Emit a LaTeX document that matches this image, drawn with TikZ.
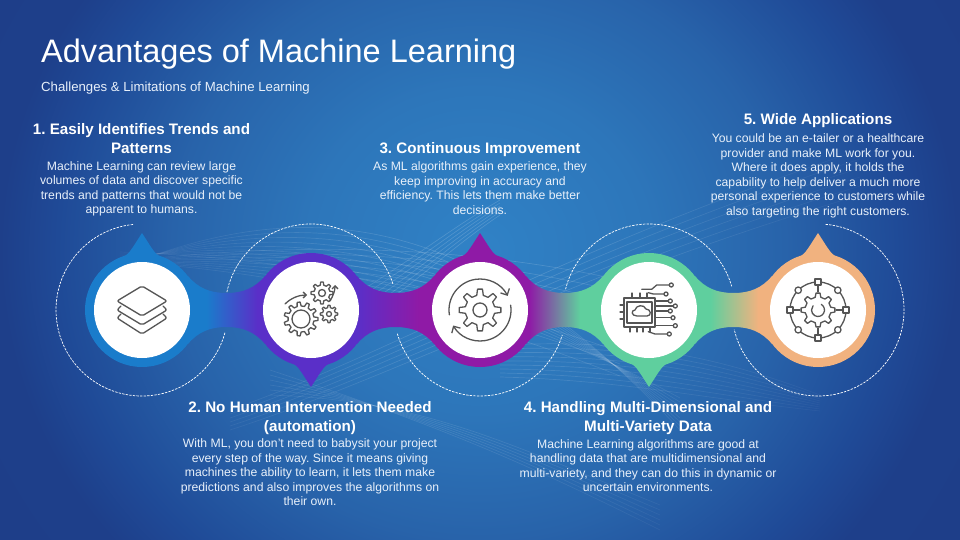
\documentclass[tikz,border=0pt]{standalone}
\usepackage{fontspec}
\setmainfont{Liberation Sans}
\usetikzlibrary{positioning,calc,arrows.meta,fadings}

\definecolor{bgA}{HTML}{3082C6}
\definecolor{bgB}{HTML}{2D76BA}
\definecolor{bgC}{HTML}{2863AA}
\definecolor{bgD}{HTML}{1F4A97}
\definecolor{bgE}{HTML}{1E3F8A}
\definecolor{bgF}{HTML}{1C3A85}
\definecolor{stepblue}{HTML}{1A7CCB}
\definecolor{steppurple}{HTML}{5A2FC8}
\definecolor{stepmagenta}{HTML}{8F1AA6}
\definecolor{stepgreen}{HTML}{5FCF9E}
\definecolor{steporange}{HTML}{F1B27F}
\definecolor{icongray}{HTML}{555555}
\definecolor{bodytext}{HTML}{E8F0FA}

\pgfdeclareradialshading{bgshade}{\pgfpoint{0bp}{0bp}}{color(0bp)=(bgA); color(9bp)=(bgB); color(16bp)=(bgC); color(22bp)=(bgD); color(25bp)=(bgE); color(50bp)=(bgF)}
\pgfdeclarehorizontalshading{neckab}{100bp}{color(0bp)=(stepblue); color(37bp)=(stepblue); color(70bp)=(steppurple); color(100bp)=(steppurple)}
\pgfdeclarehorizontalshading{neckbc}{100bp}{color(0bp)=(steppurple); color(25bp)=(steppurple); color(65bp)=(stepmagenta); color(100bp)=(stepmagenta)}
\pgfdeclarehorizontalshading{neckcd}{100bp}{color(0bp)=(stepmagenta); color(27bp)=(stepmagenta); color(60bp)=(stepgreen); color(100bp)=(stepgreen)}
\pgfdeclarehorizontalshading{neckde}{100bp}{color(0bp)=(stepgreen); color(35bp)=(stepgreen); color(66bp)=(steporange); color(100bp)=(steporange)}
\tikzfading[name=meshfade, inner color=transparent!100, outer color=transparent!0]

\tikzset{
	ring/.style = {circle, inner sep=0pt, minimum size=114pt},
	whitedisc/.style = {circle, fill=white, inner sep=0pt, minimum size=96pt},
	dashring/.style = {white, line width=0.7pt, dash pattern=on 2.4pt off 1.2pt},
	meshline/.style = {white, line width=0.7pt, opacity=0.17},
	iconline/.style = {icongray, line width=1.3pt, line join=round, line cap=round},
	heading/.style = {white, align=center, inner sep=0pt, font=\fontsize{15.2}{19.7}\selectfont\bfseries\frenchspacing},
	bodytxt/.style = {bodytext, align=center, inner sep=0pt, font=\fontsize{12.2}{14.5}\selectfont\frenchspacing},
}

\newcommand{\neckpath}[2]{
	\shade[shading=#2, shift={(#1)}] (46,-34) .. controls (56,-22) and (68,-17) .. (84.5,-17) .. controls (101,-17) and (113,-22) .. (123,-34) -- (123,34) .. controls (113,22) and (101,17) .. (84.5,17) .. controls (68,17) and (56,22) .. (46,34) -- cycle;
}
\newcommand{\droptip}[3]{
	\fill[#3, shift={(#1)}, yscale=#2] (0,-77) -- (-9,-63) .. controls (-11,-60) and (-13,-57) .. (-17,-54) -- (17,-54) .. controls (13,-57) and (11,-60) .. (9,-63) -- cycle;
}
\newcommand{\dasharc}[3]{
	\draw[dashring] ($(#1)+(#2:86)$) arc[start angle=#2, end angle=#3, radius=86];
}
\newcommand{\gearat}[5]{
	\draw[iconline, shift={(#1,#2)}] ({-0.28*360/#5}:#3) \foreach \t in {1,...,#5}{ -- ({(\t-1)*360/#5-0.28*360/#5}:#3) -- ({(\t-1)*360/#5-0.15*360/#5}:#4) -- ({(\t-1)*360/#5+0.15*360/#5}:#4) -- ({(\t-1)*360/#5+0.28*360/#5}:#3)} -- cycle;
}

\begin{document}
\begin{tikzpicture}[x=1pt, y=-1pt]
	\useasboundingbox (0,0) rectangle (960,540);
	\clip (0,0) rectangle (960,540);
	\shade[shading=bgshade] (0,-200) rectangle (960,700);

	\foreach \i in {0,...,8} {
		\draw[meshline] (120,268-\i*2) .. controls (300,195+\i*8) and (470,205+\i*10) .. (680,430-\i*4);
		\draw[meshline] (120,262) .. controls (260,245+\i*3) and (440,240+\i*8) .. (620,280+\i*12);
		\draw[meshline] (500,345+\i*4) .. controls (620,340+\i*5) and (700,350+\i*6) .. (820,395+\i*2);
	}
	\foreach \i in {0,...,5} {
		\draw[meshline] (320,315+\i*6) .. controls (400,270+\i*6) and (440,235+\i*4) .. (500,200+\i*3);
		\draw[meshline] (230,410+\i*4) .. controls (400,350+\i*5) and (560,250+\i*7) .. (860,150+\i*9);
		\draw[meshline] (270,370+\i*5) .. controls (420,420-\i*4) and (500,450-\i*2) .. (660,530-\i*5);
	}
	% hides the far ends of the mesh again
	\shade[shading=bgshade, path fading=meshfade, fit fading=true] (0,-200) rectangle (960,700);

	\node[ring, fill=stepblue] (ringa) at (142,310) {};
	\node[ring, fill=steppurple] (ringb) at (311,310) {};
	\node[ring, fill=stepmagenta] (ringc) at (480,310) {};
	\node[ring, fill=stepgreen] (ringd) at (649,310) {};
	\node[ring, fill=steporange] (ringe) at (818,310) {};

	\neckpath{ringa}{neckab}
	\neckpath{ringb}{neckbc}
	\neckpath{ringc}{neckcd}
	\neckpath{ringd}{neckde}

	\droptip{ringa}{1}{stepblue}
	\droptip{ringb}{-1}{steppurple}
	\droptip{ringc}{1}{stepmagenta}
	\droptip{ringd}{-1}{stepgreen}
	\droptip{ringe}{1}{steporange}

	\dasharc{ringa}{264}{15}
	\dasharc{ringb}{192}{343}
	\dasharc{ringc}{164}{17}
	\dasharc{ringd}{194}{344}
	\dasharc{ringe}{275}{527}

	\node[whitedisc] (disca) at (ringa) {};
	\node[whitedisc] (discb) at (ringb) {};
	\node[whitedisc] (discc) at (ringc) {};
	\node[whitedisc] (discd) at (ringd) {};
	\node[whitedisc] (disce) at (ringe) {};

	% layers
	\begin{scope}[shift={(disca)}]
		\draw[iconline, rounded corners=2pt] (-21,-4) -- (-25,0) -- (0,15) -- (25,0) -- (21,-4);
		\draw[iconline, rounded corners=2pt] (-21,4) -- (-25,8) -- (0,24) -- (25,8) -- (21,4);
		\draw[iconline, rounded corners=2pt, fill=white] (0,-24) -- (25,-9) -- (0,6) -- (-25,-9) -- cycle;
	\end{scope}

	% gears
	\begin{scope}[shift={(discb)}]
		\gearat{-10}{9}{13}{17}{11}
		\draw[iconline] (-10,9) circle[radius=9];
		\gearat{11}{-17}{8}{11}{8}
		\draw[iconline] (11,-17) circle[radius=3.5];
		\gearat{18}{4}{6.5}{8.7}{8}
		\draw[iconline] (18,4) circle[radius=2.5];
		\draw[iconline, -{Straight Barb[length=3pt,width=6pt]}] (-26,-6) .. controls (-20,-12) and (-12,-15) .. (-4,-15);
		\draw[iconline, -{Straight Barb[length=3pt,width=6pt]}] (19,-9) .. controls (22,-14) and (24,-19) .. (24,-25);
	\end{scope}

	% improvement cycle
	\begin{scope}[shift={(discc)}]
		\gearat{0}{0}{15}{21}{8}
		\draw[iconline] (0,0) circle[radius=7];
		\draw[iconline, -{Straight Barb[length=5pt,width=10pt]}] (171:31) arc[start angle=171, end angle=333, radius=31];
		\draw[iconline, -{Straight Barb[length=5pt,width=10pt]}] (-9:31) arc[start angle=-9, end angle=150, radius=31];
	\end{scope}

	% chip
	\begin{scope}[shift={(discd)}]
		\draw[iconline] (-25,-12) rectangle (6,17);
		\draw[iconline] (-22,-8) rectangle (3,13);
		\foreach \pin in {-5,2,9} \draw[iconline] (-29,\pin) -- (-25,\pin);
		\foreach \pin in {-17,-9,-2} \draw[iconline] (\pin,-17) -- (\pin,-12);
		\foreach \pin in {-19,-12,-6,1} \draw[iconline] (\pin,17) -- (\pin,22);
		\draw[iconline] (-12,6) .. controls (-18,6) and (-18,0) .. (-14,0) .. controls (-13,-5) and (-5,-6) .. (-3,-1) .. controls (2,-1) and (3,6) .. (-2,6) -- cycle;
		\foreach \ty/\tx in {-9/19.3, -4/24.3, 1/19.3, 7.7/22, 15.7/24.3} {
			\draw[iconline] (6,\ty) -- (\tx,\ty);
			\draw[iconline, fill=white] (\tx+2,\ty) circle[radius=2];
		}
		\draw[iconline] (-7.3,-20.7) -- (2.7,-20.7) -- (7.7,-25) -- (20.3,-25);
		\draw[iconline, fill=white] (22.3,-25) circle[radius=2];
		\draw[iconline] (-0.7,-17.3) -- (4.3,-16) -- (15,-16);
		\draw[iconline, fill=white] (17,-16) circle[radius=2];
		\draw[iconline] (-0.7,21.7) -- (6,24) -- (18.3,24);
		\draw[iconline, fill=white] (20.3,24) circle[radius=2];
	\end{scope}

	% network gear
	\begin{scope}[shift={(disce)}]
		\draw[iconline] (0,0) circle[radius=28];
		\gearat{0}{0}{13}{17}{8}
		\draw[iconline] (-60:6.5) arc[start angle=-60, end angle=220, radius=6.5];
		\foreach \a in {0,90,180,270} {
			\draw[iconline] (\a:18) -- (\a:25);
			\draw[iconline, fill=white, shift={(\a:28)}] (-3,-3) rectangle (3,3);
		}
		\foreach \a in {45,135,225,315} \draw[iconline, fill=white] (\a:28) circle[radius=3.2];
	\end{scope}

	\node[anchor=west, white, inner sep=0pt, font=\fontsize{32.5}{36}\selectfont] (title) at (41,54) {Advantages of Machine Learning};
	\node[bodytext, inner sep=0pt, font=\fontsize{13.2}{15}\selectfont\frenchspacing, below right=12.5pt and 0pt of title.south west] (subtitle) {Challenges \& Limitations of Machine Learning};

	\node[heading, anchor=north] (heada) at (141.5,123) {1. Easily Identifies Trends and\\Patterns};
	\node[bodytxt, below=7pt of heada] (bodya) {Machine Learning can review large\\volumes of data and discover specific\\trends and patterns that would not be\\apparent to humans.};

	\node[heading, anchor=north] (headb) at (310,401) {2. No Human Intervention Needed\\(automation)};
	\node[bodytxt, below=3.5pt of headb] (bodyb) {With ML, you don't need to babysit your project\\every step of the way. Since it means giving\\machines the ability to learn, it lets them make\\predictions and also improves the algorithms on\\their own.};

	\node[heading, anchor=north] (headc) at (480,142) {3. Continuous Improvement};
	\node[bodytxt, below=5pt of headc] (bodyc) {As ML algorithms gain experience, they\\keep improving in accuracy and\\efficiency. This lets them make better\\decisions.};

	\node[heading, anchor=north] (headd) at (648,401) {4. Handling Multi-Dimensional and\\Multi-Variety Data};
	\node[bodytxt, below=4pt of headd] (bodyd) {Machine Learning algorithms are good at\\handling data that are multidimensional and\\multi-variety, and they can do this in dynamic or\\uncertain environments.};

	\node[heading, anchor=north] (heade) at (818,113) {5. Wide Applications};
	\node[bodytxt, below=6pt of heade] (bodye) {You could be an e-tailer or a healthcare\\provider and make ML work for you.\\Where it does apply, it holds the\\capability to help deliver a much more\\personal experience to customers while\\also targeting the right customers.};
\end{tikzpicture}
\end{document}
